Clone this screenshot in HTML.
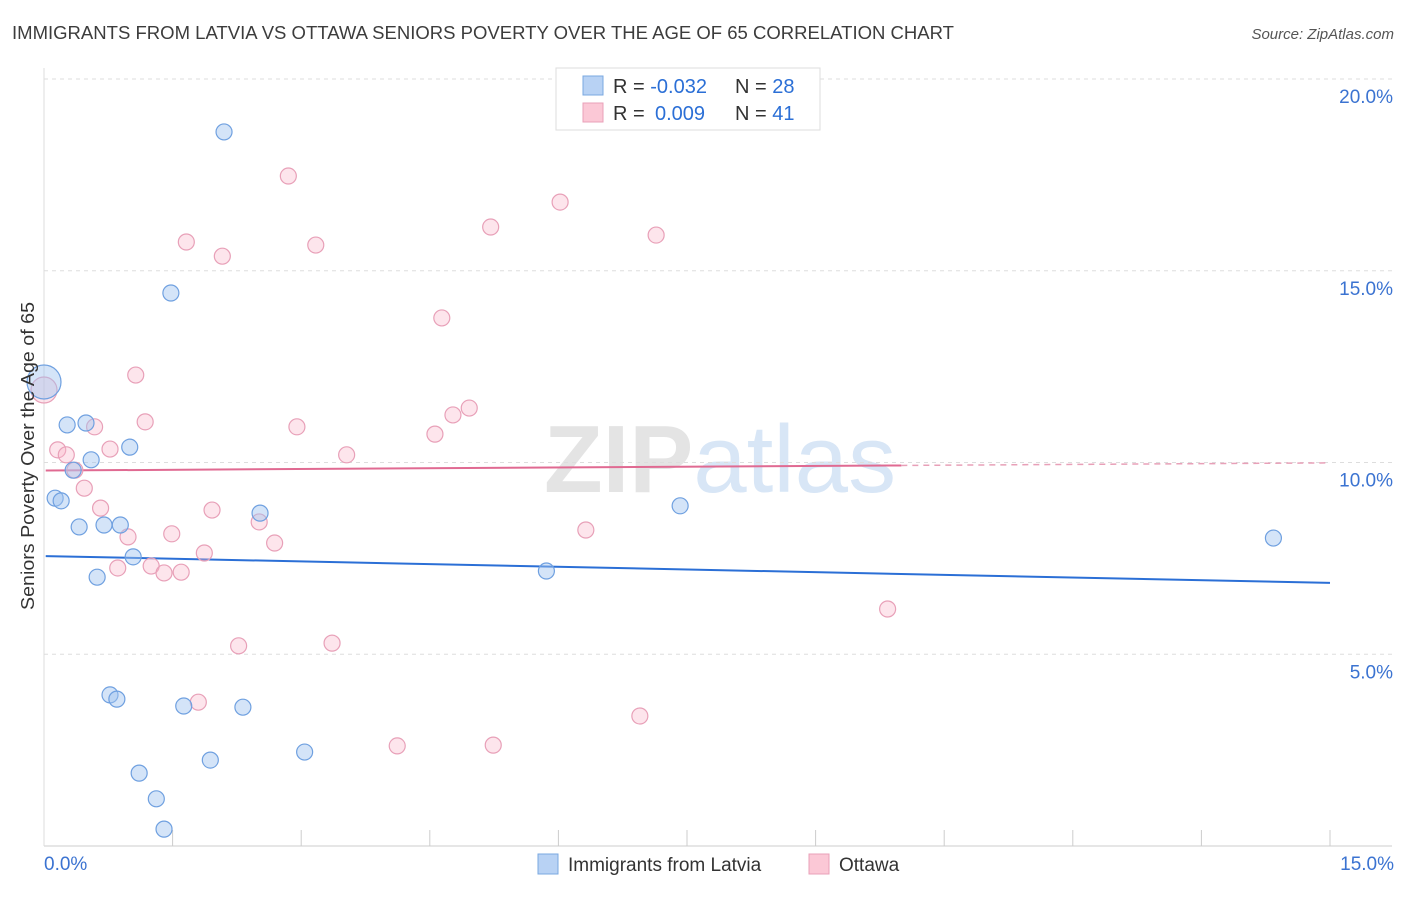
<!DOCTYPE html>
<html><head><meta charset="utf-8"><style>
body{margin:0;background:#fff;font-family:"Liberation Sans",sans-serif}
svg text{font-family:"Liberation Sans",sans-serif}
</style></head><body>
<svg id="chart" width="1406" height="892">
<text x="12" y="39" font-size="18" fill="#3c3c3c" textLength="942" lengthAdjust="spacingAndGlyphs">IMMIGRANTS FROM LATVIA VS OTTAWA SENIORS POVERTY OVER THE AGE OF 65 CORRELATION CHART</text>
<text x="1394" y="39" font-size="15" fill="#555" font-style="italic" text-anchor="end">Source: ZipAtlas.com</text>
<text x="720" y="492" font-size="96" fill="#e4e4e4" text-anchor="middle" font-weight="bold">ZIP<tspan fill="#d8e6f6" font-weight="normal">atlas</tspan></text>
<g id="grid"></g>
<g id="axes"></g>
<g id="trend"></g>
<g id="points"></g>
<text transform="translate(34,456) rotate(-90)" font-size="18" fill="#333" text-anchor="middle" textLength="308" lengthAdjust="spacingAndGlyphs">Seniors Poverty Over the Age of 65</text>
<g>
<rect x="556" y="68" width="264" height="62" fill="#fff" stroke="#ddd"/>
<rect x="583" y="76" width="20" height="19" fill="#b8d2f4" stroke="#7aa8e0"/>
<rect x="583" y="103" width="20" height="19" fill="#fbc8d6" stroke="#eaa0b8"/>
<text x="613" y="93" font-size="20" fill="#333">R = <tspan fill="#2b6fd6">-0.032</tspan><tspan x="735">N = </tspan><tspan fill="#2b6fd6">28</tspan></text>
<text x="613" y="120" font-size="20" fill="#333">R = <tspan fill="#2b6fd6" x="655">0.009</tspan><tspan x="735">N = </tspan><tspan fill="#2b6fd6">41</tspan></text>
</g>
<g>
<rect x="538" y="854" width="20" height="20" fill="#b8d2f4" stroke="#7aa8e0"/>
<text x="568" y="871" font-size="19" fill="#333">Immigrants from Latvia</text>
<rect x="809" y="854" width="20" height="20" fill="#fbc8d6" stroke="#eaa0b8"/>
<text x="839" y="871" font-size="19" fill="#333">Ottawa</text>
</g>
</svg>
<script>
const yTicks=[5,10,15,20];
const xTickLabels=["0.0%","15.0%"];
const latviaX=[0.0,2.10,1.48,0.27,0.49,0.55,1.00,0.34,0.13,0.20,0.41,0.70,0.89,1.04,0.62,2.52,5.86,7.42,14.34,0.77,0.85,1.63,2.32,1.94,3.04,1.11,1.31,1.40];
const latviaY=[12.10,18.62,14.42,10.98,11.03,10.07,10.40,9.80,9.07,9.00,8.32,8.37,8.37,7.54,7.01,8.68,7.17,8.87,8.03,3.94,3.83,3.65,3.62,2.24,2.45,1.90,1.23,0.44];
const ottawaX=[0.0,2.85,1.66,2.08,3.17,5.21,6.02,7.14,4.64,1.07,1.18,0.59,2.95,4.56,4.77,4.96,0.16,0.26,0.77,3.53,0.36,0.47,0.66,1.96,2.51,0.98,1.49,2.69,6.32,1.87,0.86,1.25,1.40,1.60,9.84,2.27,3.36,1.80,6.95,4.12,5.24];
const ottawaY=[11.89,17.47,15.75,15.38,15.67,16.14,16.79,15.93,13.77,12.28,11.06,10.93,10.93,10.74,11.24,11.42,10.33,10.20,10.35,10.20,9.80,9.33,8.81,8.76,8.45,8.06,8.14,7.90,8.24,7.64,7.25,7.30,7.12,7.14,6.18,5.22,5.29,3.75,3.39,2.61,2.63];
const latviaTrend=[7.56,6.86];
const ottawaTrend=[9.79,9.99];
const X=v=>44+v/15*1286;
const Y=v=>846-v*38.35;
const NS="http://www.w3.org/2000/svg";
function mk(p,t,a){const e=document.createElementNS(NS,t);for(const k in a)e.setAttribute(k,a[k]);p.appendChild(e);return e;}
const grid=document.getElementById('grid'),axes=document.getElementById('axes');
yTicks.forEach(t=>{
 const l=mk(grid,'line',{x1:44,x2:1392,y1:Y(t),y2:Y(t),stroke:'#ddd','stroke-dasharray':'4,4'});
 
 
 const tx=mk(grid,'text',{x:1393,y:Y(t)+24,'font-size':19,fill:'#3b73d1','text-anchor':'end'});
 tx.textContent=t.toFixed(1)+'%';
 
 
});
const ax=mk(axes,'line',{x1:44,x2:1392,y1:846,y2:846,stroke:'#ccc'});


const ay=mk(axes,'line',{x1:44,x2:44,y1:68,y2:846,stroke:'#ddd'});


for(let i=1;i<=10;i++){const t=mk(axes,'line',{x1:X(i*1.5),x2:X(i*1.5),y1:830,y2:846,stroke:'#ccc'});
 
 }
[[0,'start',44],[15,'end',1394]].forEach(([v,a,x],i)=>{const t=mk(axes,'text',{x:x,y:870,'font-size':19,fill:'#3b73d1','text-anchor':a});t.textContent=xTickLabels[i];
 
 });
const tr=document.getElementById('trend');
const lb=mk(tr,'line',{x1:X(0.02),y1:Y(latviaTrend[0]),x2:X(15),y2:Y(latviaTrend[1]),stroke:'#2b6fd6','stroke-width':2});


const px=10;const pm=ottawaTrend[0]+(ottawaTrend[1]-ottawaTrend[0])*px/15;
const lp=mk(tr,'line',{x1:X(0.02),y1:Y(ottawaTrend[0]),x2:X(px),y2:Y(pm),stroke:'#e06a92','stroke-width':2});


const lp2=mk(tr,'line',{x1:X(px),y1:Y(pm),x2:X(15),y2:Y(ottawaTrend[1]),stroke:'#e8a0b8','stroke-width':1.5,'stroke-dasharray':'6,5'});


const pts=document.getElementById('points');
ottawaX.forEach((v,i)=>{const c=mk(pts,'circle',{cx:X(v),cy:Y(ottawaY[i]),r:i==0?13:8,fill:'rgba(248,180,200,0.35)',stroke:'#e8a0b8','stroke-width':1.2});
 
 });
latviaX.forEach((v,i)=>{const c=mk(pts,'circle',{cx:X(v),cy:Y(latviaY[i]),r:i==0?17:8,fill:'rgba(160,196,240,0.45)',stroke:'#6fa0e0','stroke-width':1.2});
 
 });
</script>
</body></html>
